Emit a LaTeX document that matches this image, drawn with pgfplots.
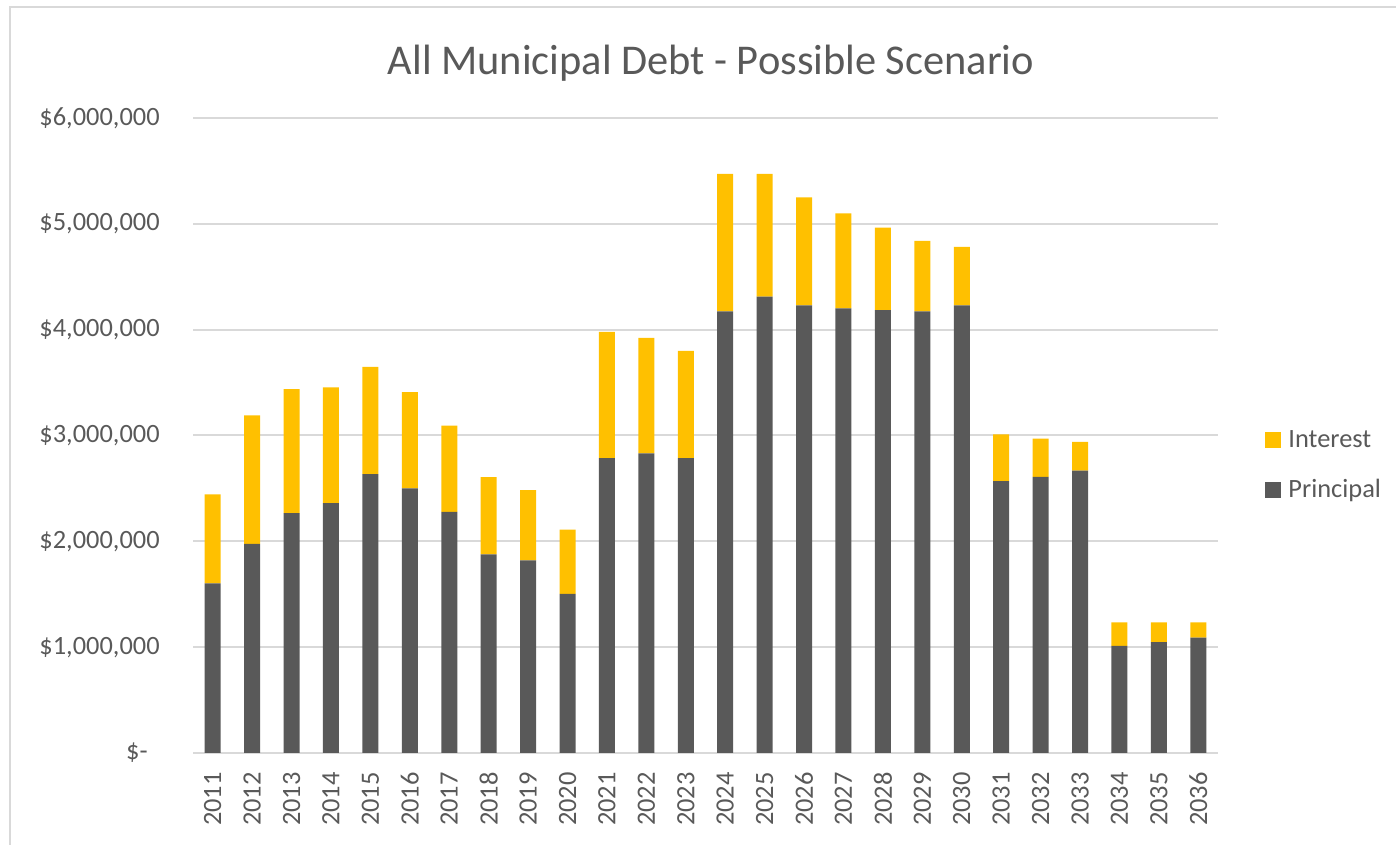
\documentclass[border=0pt]{standalone}
\usepackage{fontspec}
\setmainfont{Carlito}
\usepackage{pgfplots}
\usepackage{pgfplotstable}
\pgfplotsset{compat=1.18}
\definecolor{gold}{HTML}{FFC000}
\definecolor{dgrey}{HTML}{595959}
\definecolor{gridc}{HTML}{D9D9D9}
\definecolor{txt}{HTML}{595959}
\pgfplotsset{mylegend/.style={legend image code/.code={\fill[##1] (0pt,-4pt) rectangle (8pt,4pt);}}}
\pgfplotstableread{
x principal interest
0 1602000 841000
1 1975000 1214000
2 2266000 1173000
3 2361000 1094000
4 2635000 1013000
5 2500000 910000
6 2279000 815000
7 1877000 730000
8 1820000 664000
9 1504000 607000
10 2787000 1193000
11 2832000 1090000
12 2787000 1012000
13 4172000 1299000
14 4311000 1160000
15 4230000 1020000
16 4201000 897000
17 4184000 779000
18 4172000 668000
19 4230000 553000
20 2570000 441000
21 2610000 361000
22 2668000 272000
23 1011000 223000
24 1047000 187000
25 1091000 143000
}\datatable
\begin{document}
\begin{tikzpicture}
\path[use as bounding box] (0,0) rectangle (698pt,422.5pt);
\draw[gridc, line width=1pt] (5pt,0pt) -- (5pt,419pt) -- (698pt,419pt);
\node[text=txt, font=\fontsize{21.2}{25}\selectfont, inner sep=0pt, anchor=base] at (355.5pt,385pt) {All Municipal Debt - Possible Scenario};
\begin{axis}[
  at={(96.5pt,46pt)}, anchor=south west,
  scale only axis, width=512.5pt, height=317.5pt,
  ybar stacked, bar width=8pt,
  xmin=-0.5, xmax=25.5, ymin=0, ymax=6000000,
  xtick={0,...,25},
  xticklabels={2011,2012,2013,2014,2015,2016,2017,2018,2019,2020,2021,2022,2023,2024,2025,2026,2027,2028,2029,2030,2031,2032,2033,2034,2035,2036},
  ytick={0,1000000,2000000,3000000,4000000,5000000,6000000},
  yticklabels={{\$-\hspace*{6pt}},{\$1,000,000},{\$2,000,000},{\$3,000,000},{\$4,000,000},{\$5,000,000},{\$6,000,000}},
  scaled y ticks=false,
  ymajorgrids, major grid style={draw=gridc, line width=1pt},
  axis line style={draw=none},
  tick style={draw=none},
  tick label style={text=txt, font=\fontsize{13.2}{15}\selectfont, inner sep=0pt},
  xticklabel style={rotate=90, anchor=east},
  xticklabel shift=9.5pt,
  yticklabel shift=16.5pt,
  legend style={at={(1.0459,0.4535)}, anchor=west, draw=none, fill=none, inner sep=0pt,
    row sep=12pt, font=\fontsize{13.2}{15}\selectfont, text=txt,
    nodes={inner sep=0pt, text height=10pt, text depth=3pt},
    /tikz/every odd column/.append style={column sep=3.5pt}},
  legend cell align=left, reverse legend,
]
\addplot[fill=dgrey, draw=none, mylegend] table[x=x,y=principal]{\datatable};
\addplot[fill=gold, draw=none, mylegend] table[x=x,y=interest]{\datatable};
\legend{Principal,Interest}
\end{axis}
\end{tikzpicture}
\end{document}
